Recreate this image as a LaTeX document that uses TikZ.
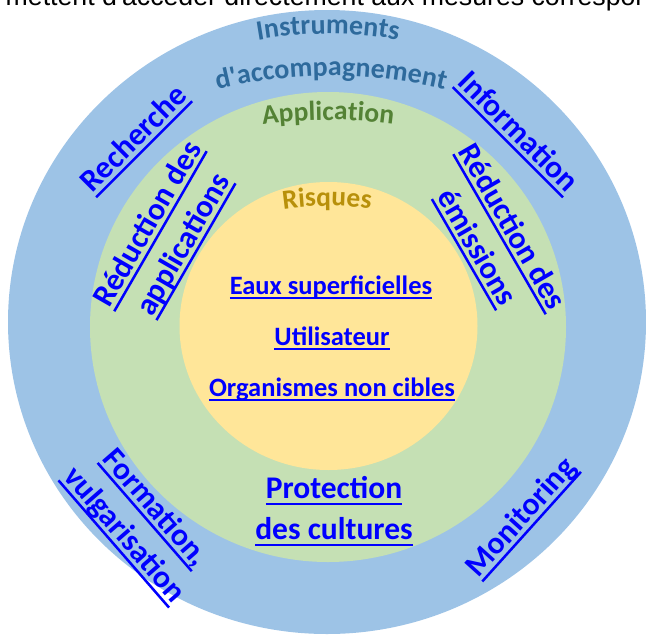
\documentclass[tikz,border=0pt]{standalone}
\usepackage{fontspec}
\setmainfont{Carlito}
\newfontfamily\bodyfont{Liberation Sans}
\usetikzlibrary{decorations.text}

\definecolor{ringblue}{HTML}{9DC3E6}
\definecolor{ringgreen}{HTML}{C5E0B4}
\definecolor{ringyellow}{HTML}{FFE699}
\definecolor{linkblue}{HTML}{0000FF}
\definecolor{instrcol}{HTML}{2E6A9C}
\definecolor{applcol}{HTML}{548235}
\definecolor{riskcol}{HTML}{B8900A}

% underlined hyperlink-style text
\newcommand\lnk[1]{\setbox0=\hbox{#1}\rlap{\rule[-0.2em]{\wd0}{0.08em}}\box0}

\tikzset{
  outerlink/.style={font=\bfseries\fontsize{31.5}{41}\selectfont, text=linkblue,
    align=center, inner sep=0pt},
  risklink/.style={font=\bfseries\fontsize{26.5}{32}\selectfont, text=linkblue,
    inner sep=0pt, anchor=base},
  arctitle/.style={decorate, decoration={text along path, text align=center, text={#1}}},
}

\begin{document}
\begin{tikzpicture}[x=1pt,y=1pt]
\useasboundingbox (0,0) rectangle (646,-638);
\clip (0,0) rectangle (646,-638);

% running text line above the figure
\node[anchor=base west, inner sep=0pt, font=\bodyfont\fontsize{26.7}{30}\selectfont]
  (intro) at (5.5,-5.5) {mettent d'accéder directement aux mesures correspon};

% concentric rings
\fill[ringblue]   (327,-322)   ellipse [x radius=319, y radius=312];
\fill[ringgreen]  (328,-327)   ellipse [x radius=238, y radius=235];
\fill[ringyellow] (328.5,-326) ellipse [x radius=149, y radius=144];

% ring titles, set along arcs
\path[arctitle={|\bfseries\fontsize{28}{28}\selectfont\color{instrcol}|Instruments}]
  (328,-444) ++(110:410) arc[start angle=110, end angle=70, radius=410];
\path[arctitle={|\bfseries\fontsize{28}{28}\selectfont\color{instrcol}|d{\textquotesingle}accompagnement}]
  (331,-556) ++(110:480) arc[start angle=110, end angle=70, radius=480];
\path[arctitle={|\bfseries\fontsize{27.5}{27.5}\selectfont\color{applcol}|Application}]
  (328,-620) ++(102:500) arc[start angle=102, end angle=78, radius=500];
\path[arctitle={|\bfseries\fontsize{27.5}{27.5}\selectfont\color{riskcol}|Risques}]
  (327,-506) ++(105:300) arc[start angle=105, end angle=75, radius=300];

% outer ring: accompanying instruments
\node[outerlink, rotate=45]  (recherche)   at (135,-140) {\lnk{Recherche}};
\node[outerlink, rotate=-45] (information) at (517,-133) {\lnk{Information}};
\node[outerlink, rotate=-49] (formation)   at (139,-522) {\lnk{Formation,}\\\lnk{vulgarisation}};
\node[outerlink, rotate=48]  (monitoring)  at (522,-518) {\lnk{Monitoring}};

% middle ring: application
\node[outerlink, rotate=60]  (redappl)    at (167,-235) {\lnk{Réduction des}\\\lnk{applications}};
\node[outerlink, rotate=-60] (redemis)    at (493,-238) {\lnk{Réduction des}\\\lnk{émissions}};
\node[outerlink]             (protection) at (334,-511.5) {\lnk{Protection}\\\lnk{des cultures}};

% inner disc: risks
\node[risklink] (eaux)        at (331,-294) {\lnk{Eaux superficielles}};
\node[risklink] (utilisateur) at (332,-345) {\lnk{Utilisateur}};
\node[risklink] (organismes)  at (332,-396) {\lnk{Organismes non cibles}};
\end{tikzpicture}
\end{document}
